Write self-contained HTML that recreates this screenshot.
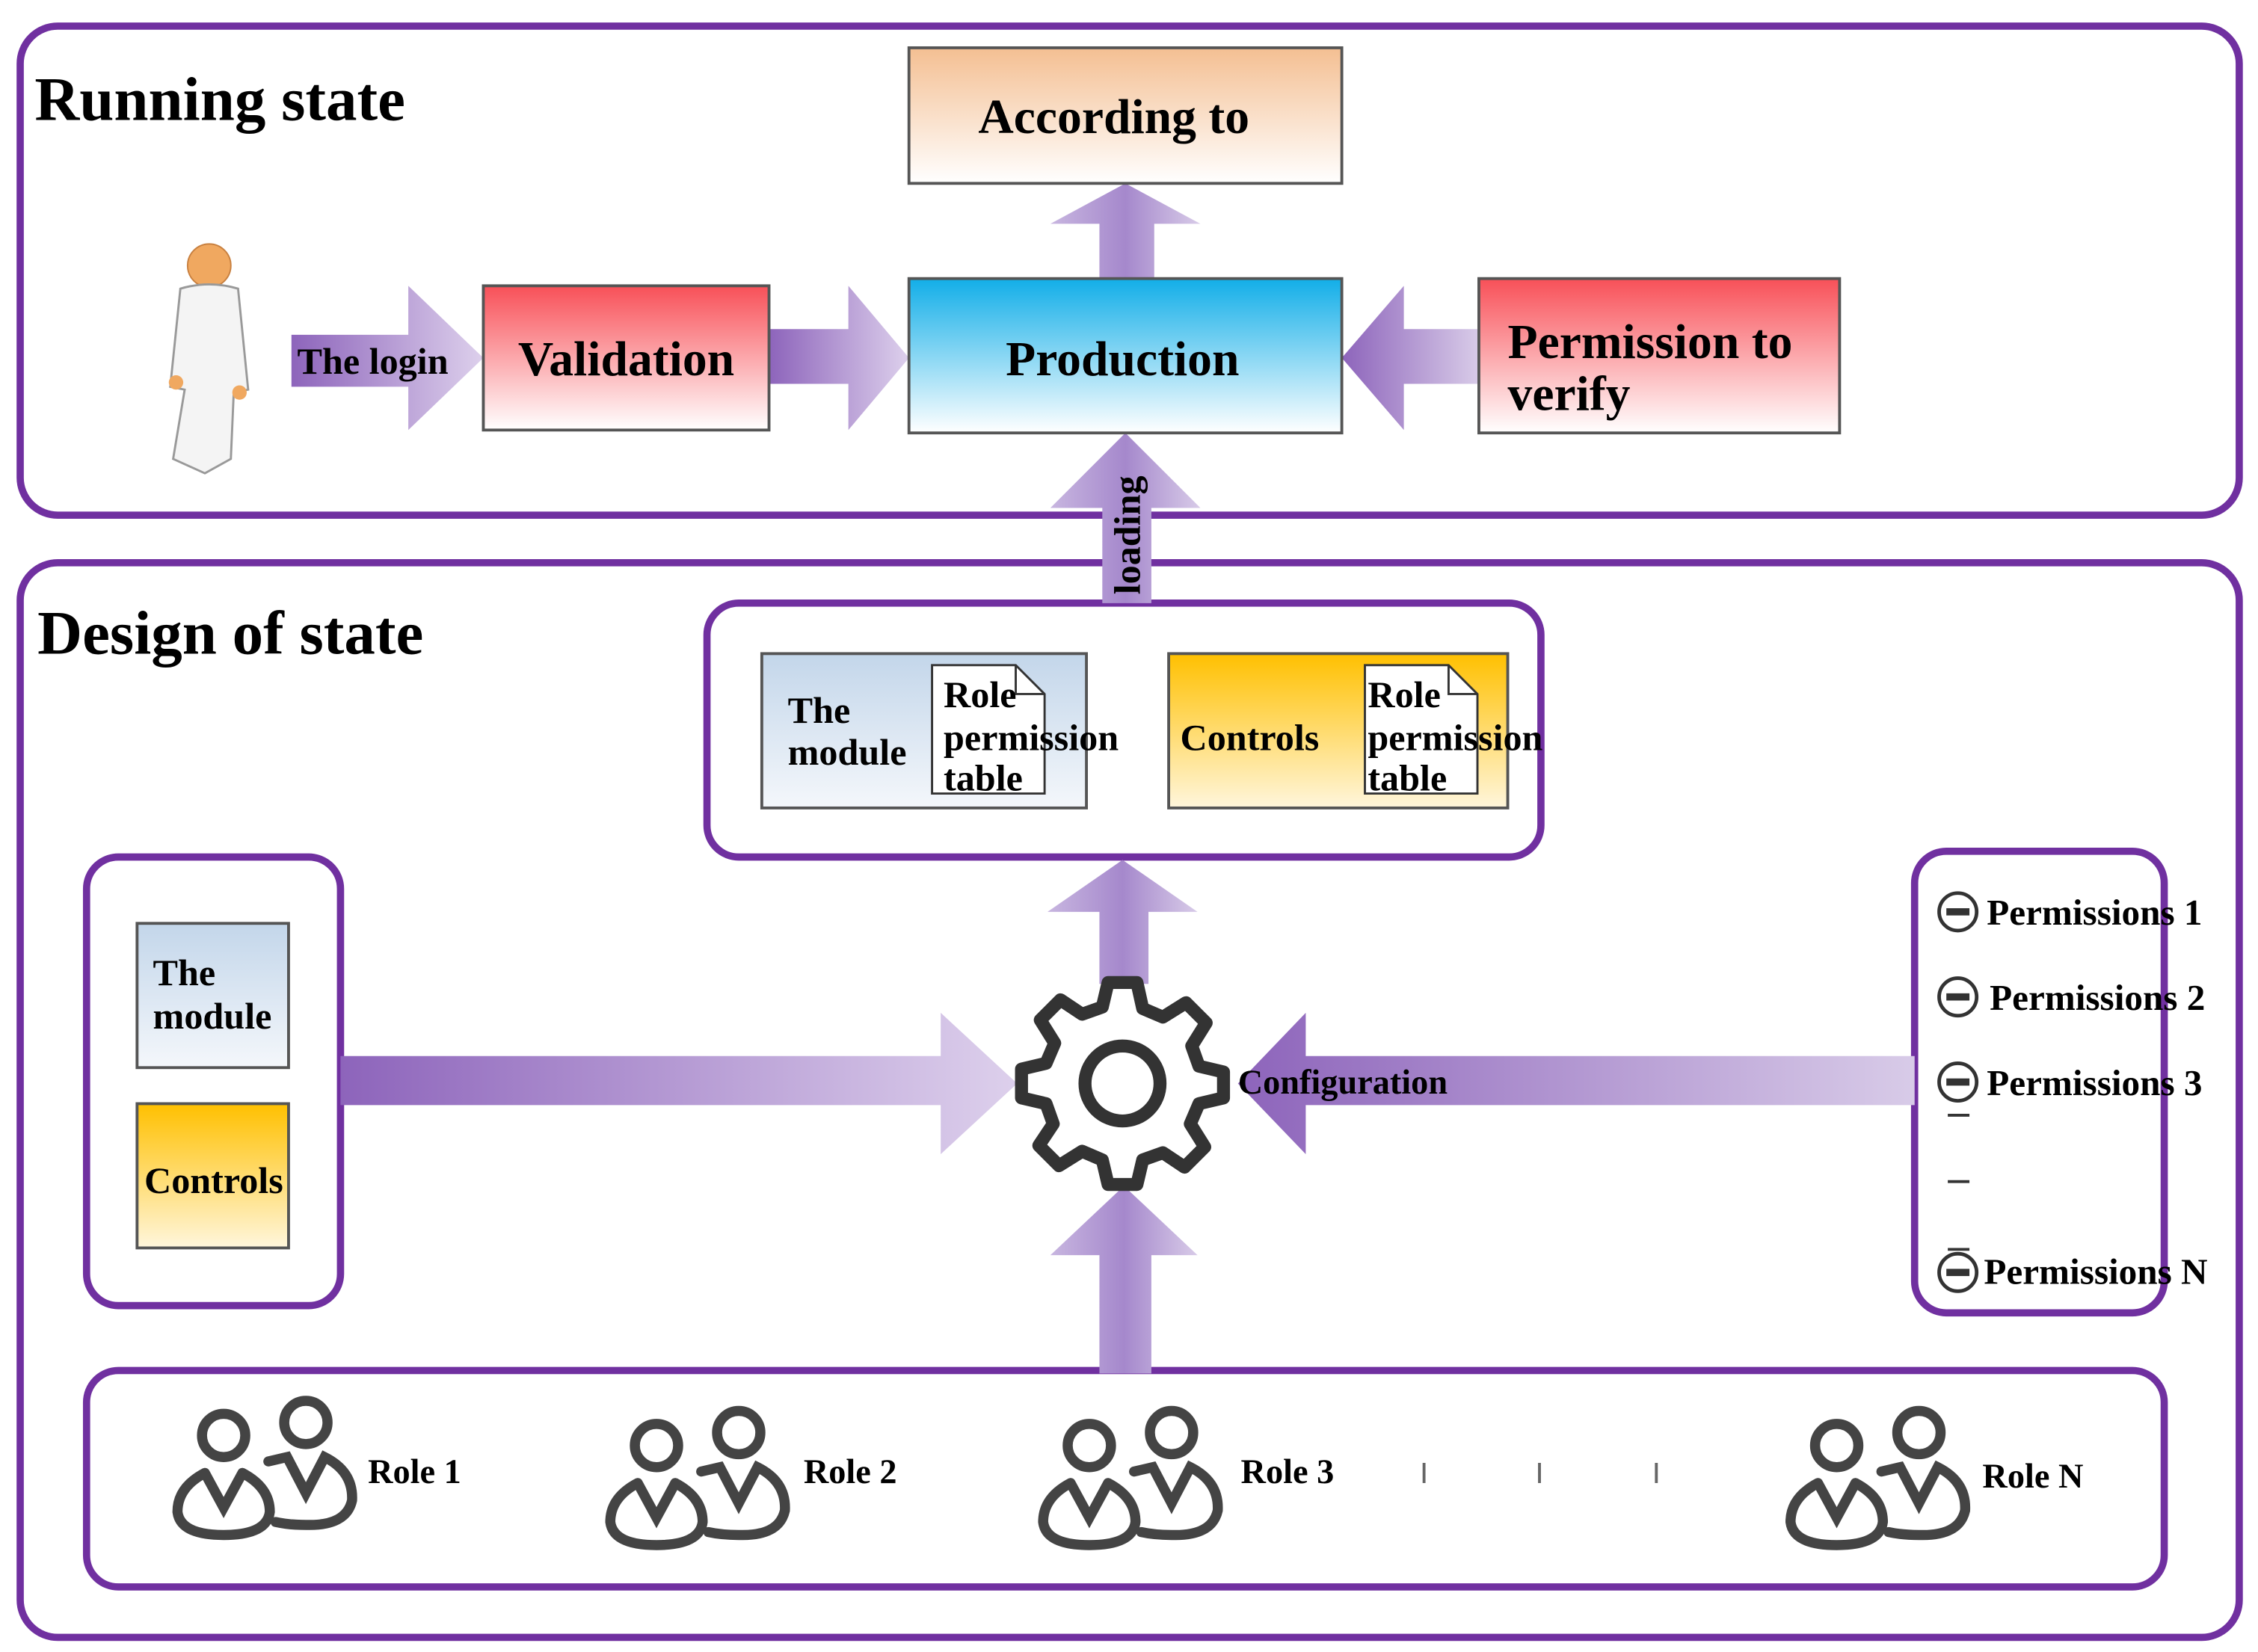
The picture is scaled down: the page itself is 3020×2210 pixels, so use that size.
<!DOCTYPE html>
<html><head><meta charset="utf-8"><style>html,body{margin:0;padding:0;background:#fff}svg{display:block}</style></head><body>
<svg width="3020" height="2210" viewBox="0 0 1565 1145" xmlns="http://www.w3.org/2000/svg" font-family="'Liberation Serif', serif" font-weight="bold">
<defs>
<linearGradient id="pe" x1="0" y1="0" x2="0" y2="1"><stop offset="0" stop-color="#f4bf92"/><stop offset="1" stop-color="#fff"/></linearGradient>
<linearGradient id="rd" x1="0" y1="0" x2="0" y2="1"><stop offset="0" stop-color="#f85058"/><stop offset="1" stop-color="#fff"/></linearGradient>
<linearGradient id="cy" x1="0" y1="0" x2="0" y2="1"><stop offset="0" stop-color="#12aee8"/><stop offset="1" stop-color="#fff"/></linearGradient>
<linearGradient id="bl" x1="0" y1="0" x2="0" y2="1"><stop offset="0" stop-color="#c3d6ea"/><stop offset="1" stop-color="#f4f7fb"/></linearGradient>
<linearGradient id="ye" x1="0" y1="0" x2="0" y2="1"><stop offset="0" stop-color="#ffc000"/><stop offset="1" stop-color="#fff6dc"/></linearGradient>
<linearGradient id="ah" x1="0" y1="0" x2="1" y2="0"><stop offset="0" stop-color="#8d64bb"/><stop offset="1" stop-color="#ddd0ec"/></linearGradient>
<linearGradient id="ahl" x1="1" y1="0" x2="0" y2="0"><stop offset="0" stop-color="#d8cbe8"/><stop offset="1" stop-color="#8d64bb"/></linearGradient>
<linearGradient id="av" x1="0" y1="0" x2="1" y2="0"><stop offset="0" stop-color="#c8b6e0"/><stop offset="0.5" stop-color="#a588cc"/><stop offset="1" stop-color="#d8cbe8"/></linearGradient>
<g id="role" fill="none" stroke="#444" stroke-width="7" stroke-linecap="round">
<circle cx="35" cy="30" r="15"/>
<path d="M22 56 L35 80 L48 56 M22 56 Q3 66 3 83 Q5 99 35 99 Q65 99 67 83 Q67 66 48 56"/>
<circle cx="92" cy="21" r="15"/>
<path d="M66 48 L79 45 L92 70 L105 45 Q125 55 124 75 Q120 93 92 92 Q80 92 71 90"/>
</g>
<g id="mn"><circle r="13" fill="#fff" stroke="#333" stroke-width="2.5"/><rect x="-8" y="-2.5" width="16" height="5" fill="#333"/></g>
</defs>
<g fill="none" stroke="#7030a0" stroke-width="5">
<rect x="14" y="18" width="1538" height="339" rx="26"/>
<rect x="14" y="390" width="1538" height="745" rx="26"/>
<rect x="490" y="418" width="578" height="176" rx="22"/>
<rect x="60" y="594" width="176" height="311" rx="22"/>
<rect x="1327" y="590" width="173" height="320" rx="22"/>
<rect x="60" y="950" width="1440" height="150" rx="22"/>
</g>
<text x="24" y="83" font-size="43">Running state</text>
<text x="26" y="453" font-size="43">Design of state</text>
<path d="M762 195 V155 H728 L780 127 L832 155 H800 V195 Z" fill="url(#av)"/>
<path d="M202 232 H283 V198 L335 248 L283 298 V268 H202 Z" fill="url(#ah)"/>
<path d="M533 228 H588 V198 L630 248 L588 298 V266 H533 Z" fill="url(#ah)"/>
<path d="M1025 228 H973 V198 L930 248 L973 298 V266 H1025 Z" fill="url(#ahl)"/>
<path d="M764 418 V352 H728 L780 300 L832 352 H798 V418 Z" fill="url(#av)"/>
<path d="M762 682 V632 H726 L778 596 L830 632 H796 V682 Z" fill="url(#av)"/>
<path d="M236 732 H652 V702 L705 751 L652 800 V766 H236 Z" fill="url(#ah)"/>
<path d="M1327 732 H905 V702 L858 751 L905 800 V766 H1327 Z" fill="url(#ahl)"/>
<path d="M762 952 V870 H728 L779 822 L830 870 H798 V952 Z" fill="url(#av)"/>
<g stroke="#555" stroke-width="2">
<rect x="630" y="33" width="300" height="94" fill="url(#pe)"/>
<rect x="335" y="198" width="198" height="100" fill="url(#rd)"/>
<rect x="630" y="193" width="300" height="107" fill="url(#cy)"/>
<rect x="1025" y="193" width="250" height="107" fill="url(#rd)"/>
<rect x="528" y="453" width="225" height="107" fill="url(#bl)"/>
<rect x="810" y="453" width="235" height="107" fill="url(#ye)"/>
<rect x="95" y="640" width="105" height="100" fill="url(#bl)"/>
<rect x="95" y="765" width="105" height="100" fill="url(#ye)"/>
</g>
<g stroke="#333" stroke-width="1.5" fill="#fff">
<path d="M646 461 H704 L724 481 V550 H646 Z"/><path d="M704 461 V481 H724" fill="none"/>
<path d="M946 461 H1004 L1024 481 V550 H946 Z"/><path d="M1004 461 V481 H1024" fill="none"/>
</g>
<g font-size="34" text-anchor="middle">
<text x="772" y="92">According to</text>
<text x="434" y="260">Validation</text>
<text x="778" y="260">Production</text>
</g>
<text x="1045" y="248" font-size="34">Permission to</text>
<text x="1045" y="284" font-size="34">verify</text>
<text x="206" y="259" font-size="26">The login</text>
<text transform="translate(790,412) rotate(-90)" font-size="26">loading</text>
<g font-size="26">
<text x="546" y="501">The</text><text x="546" y="530">module</text>
<text x="654" y="490">Role</text><text x="654" y="520">permission</text><text x="654" y="548">table</text>
<text x="818" y="520">Controls</text>
<text x="948" y="490">Role</text><text x="948" y="520">permission</text><text x="948" y="548">table</text>
<text x="106" y="683">The</text><text x="106" y="713">module</text>
<text x="100" y="827">Controls</text>
</g>
<g transform="translate(778,751)">
<path fill="#fff" stroke="#333" stroke-width="9" stroke-linejoin="round" d="M-10 -70 H10 L14 -52 L28 -46 L44 -56 L58 -42 L48 -26 L53 -12 L70 -8 V10 L53 14 L47 28 L57 44 L43 58 L28 48 L14 53 L10 70 H-10 L-14 53 L-28 47 L-44 57 L-58 43 L-48 28 L-53 14 L-70 10 V-10 L-53 -14 L-47 -28 L-57 -44 L-43 -58 L-28 -48 L-14 -53 Z"/>
<circle r="26" fill="none" stroke="#333" stroke-width="9"/>
</g>
<text x="858" y="758" font-size="24">Configuration</text>
<use href="#mn" x="1357" y="632"/><use href="#mn" x="1357" y="691"/><use href="#mn" x="1357" y="750"/><use href="#mn" x="1357" y="882"/>
<g font-size="25.5"><text x="1377" y="641">Permissions 1</text><text x="1379" y="700">Permissions 2</text><text x="1377" y="759">Permissions 3</text><text x="1375" y="890">Permissions N</text></g>
<g stroke="#333" stroke-width="2"><path d="M1350 773 H1365 M1350 819 H1365 M1350 866 H1365"/></g>
<g>
<circle cx="145" cy="184" r="15" fill="#f0a860" stroke="#c88040"/>
<path d="M125 200 Q145 194 165 200 L172 270 L162 272 L160 318 L142 328 L120 318 L128 270 L118 268 Z" fill="#f4f4f4" stroke="#999" stroke-width="1.5"/>
<circle cx="122" cy="265" r="5" fill="#f0a860"/><circle cx="166" cy="272" r="5" fill="#f0a860"/>
</g>
<use href="#role" x="120" y="965"/><use href="#role" x="420" y="972"/><use href="#role" x="720" y="972"/><use href="#role" x="1238" y="972"/>
<g font-size="24"><text x="255" y="1028">Role 1</text><text x="557" y="1028">Role 2</text><text x="860" y="1028">Role 3</text><text x="1374" y="1031">Role N</text></g>
<g stroke="#666" stroke-width="2"><path d="M987 1014 V1028 M1067 1014 V1028 M1148 1014 V1028"/></g>
</svg>
</body></html>
